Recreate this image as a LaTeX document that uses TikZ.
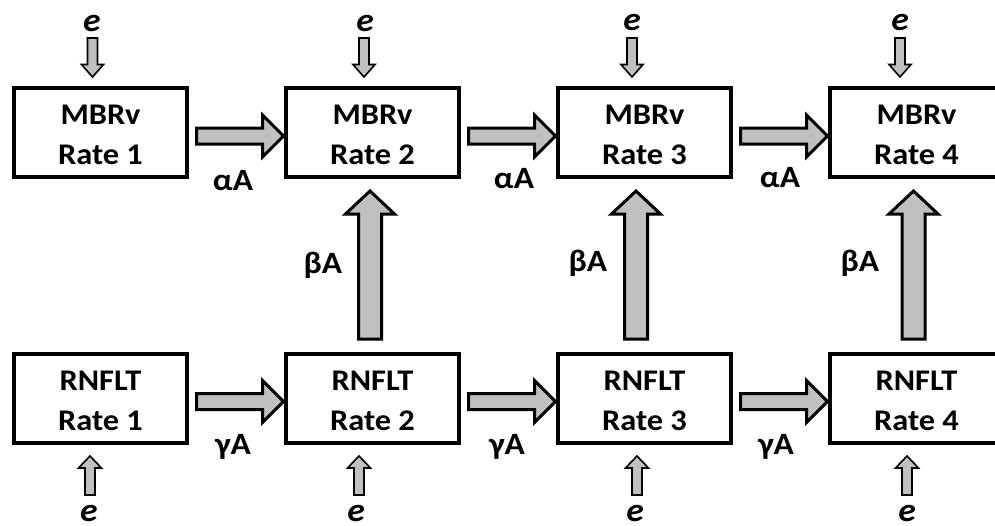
\documentclass[tikz,border=0pt]{standalone}
\usepackage{fontspec}
\setmainfont{Carlito}[FakeStretch=1.08]
\usetikzlibrary{calc}
\definecolor{arrowgray}{RGB}{192,192,192}
\newcommand{\upstrut}{\rule{0pt}{24pt}}
\tikzset{
  box/.style={draw=black, line width=4pt, minimum width=173pt, minimum height=89pt,
    align=center, inner sep=0pt,
    font=\fontsize{30}{40}\selectfont\bfseries},
  blk/.style={draw=black, line width=3pt, fill=arrowgray, line join=miter},
  eblk/.style={draw=black, line width=1.6pt, fill=arrowgray, line join=miter},
  lbl/.style={inner sep=0pt, font=\fontsize{31}{36}\selectfont\bfseries},
  elbl/.style={inner sep=0pt, font=\fontsize{33}{36}\selectfont\bfseries\itshape},
}
% right-pointing block arrow: style, start, tip, shaft half, head half, head length
\newcommand{\arrowR}[6]{\path[#1] let \p1=(#2), \p2=(#3) in
  (\x1,\y1+#4) -- (\x2-#6,\y1+#4) -- (\x2-#6,\y1+#5) -- (\x2,\y1)
  -- (\x2-#6,\y1-#5) -- (\x2-#6,\y1-#4) -- (\x1,\y1-#4) -- cycle;}
% up-pointing block arrow
\newcommand{\arrowU}[6]{\path[#1] let \p1=(#2), \p2=(#3) in
  (\x1+#4,\y1) -- (\x1+#4,\y2-#6) -- (\x1+#5,\y2-#6) -- (\x1,\y2)
  -- (\x1-#5,\y2-#6) -- (\x1-#4,\y2-#6) -- (\x1-#4,\y1) -- cycle;}
% down-pointing block arrow
\newcommand{\arrowD}[6]{\path[#1] let \p1=(#2), \p2=(#3) in
  (\x1+#4,\y1) -- (\x1+#4,\y2+#6) -- (\x1+#5,\y2+#6) -- (\x1,\y2)
  -- (\x1-#5,\y2+#6) -- (\x1-#4,\y2+#6) -- (\x1-#4,\y1) -- cycle;}
\begin{document}
\begin{tikzpicture}[x=1pt,y=-1pt]
\useasboundingbox (0,0) rectangle (995,525);
\clip (0,0) rectangle (995,525);
% boxes
\node[box] (m1) at (100.5,132.5) {\upstrut MBRv\\Rate 1};
\node[box] (m2) at (372.5,132.5) {\upstrut MBRv\\Rate 2};
\node[box] (m3) at (644.5,132.5) {\upstrut MBRv\\Rate 3};
\node[box] (m4) at (916.5,132.5) {\upstrut MBRv\\Rate 4};
\node[box] (r1) at (100.5,398.5) {\upstrut RNFLT\\Rate 1};
\node[box] (r2) at (372.5,398.5) {\upstrut RNFLT\\Rate 2};
\node[box] (r3) at (644.5,398.5) {\upstrut RNFLT\\Rate 3};
\node[box] (r4) at (916.5,398.5) {\upstrut RNFLT\\Rate 4};
% e labels
\node[elbl] (et1) at (92,24) {e};
\node[elbl] (et2) at (365,24) {e};
\node[elbl] (et3) at (632,23) {e};
\node[elbl] (et4) at (900,23) {e};
\node[elbl] (eb1) at (89,513) {e};
\node[elbl] (eb2) at (356,513) {e};
\node[elbl] (eb3) at (635,513) {e};
\node[elbl] (eb4) at (907,513) {e};
% e arrows (top)
\foreach \i/\x in {1/92.5,2/364,3/632,4/900}{
  \coordinate (ets\i) at (\x,38);
  \coordinate (ett\i) at ($(m\i.north)+(0,-9)$);
  \arrowD{eblk}{ets\i}{ett\i}{5pt}{11pt}{12.5pt}
}
% e arrows (bottom)
\foreach \i/\x in {1/90,2/359,3/637,4/907}{
  \coordinate (ebs\i) at (\x,495);
  \coordinate (ebt\i) at ($(r\i.south)+(0,11)$);
  \arrowU{eblk}{ebs\i}{ebt\i}{5pt}{11.5pt}{12pt}
}
% horizontal block arrows
\foreach \a/\b in {1/2,2/3,3/4}{
  \coordinate (hs\a) at ($(m\a.east)+(7.5,3.5)$);
  \coordinate (ht\a) at ($(m\b.west)+(-0.5,3.5)$);
  \arrowR{blk}{hs\a}{ht\a}{8pt}{21pt}{21pt}
  \coordinate (gs\a) at ($(r\a.east)+(7.5,3)$);
  \coordinate (gt\a) at ($(r\b.west)+(-0.5,3)$);
  \arrowR{blk}{gs\a}{gt\a}{8pt}{21pt}{21pt}
}
% vertical block arrows
\foreach \i/\dx in {2/-2.5,3/-8.5,4/-3}{
  \coordinate (vs\i) at ($(r\i.north)+(\dx,-13)$);
  \coordinate (vt\i) at ($(m\i.south)+(\dx,12)$);
  \arrowU{blk}{vs\i}{vt\i}{11.5pt}{24.5pt}{23pt}
}
% labels
\node[lbl] (la1) at (233,181) {αA};
\node[lbl] (la2) at (514,179) {αA};
\node[lbl] (la3) at (780,178) {αA};
\node[lbl] (lg1) at (233,447) {γA};
\node[lbl] (lg2) at (507,447) {γA};
\node[lbl] (lg3) at (776,447) {γA};
\node[lbl] (lb2) at (323,265) {βA};
\node[lbl] (lb3) at (588,263) {βA};
\node[lbl] (lb4) at (860,263) {βA};
\end{tikzpicture}
\end{document}
